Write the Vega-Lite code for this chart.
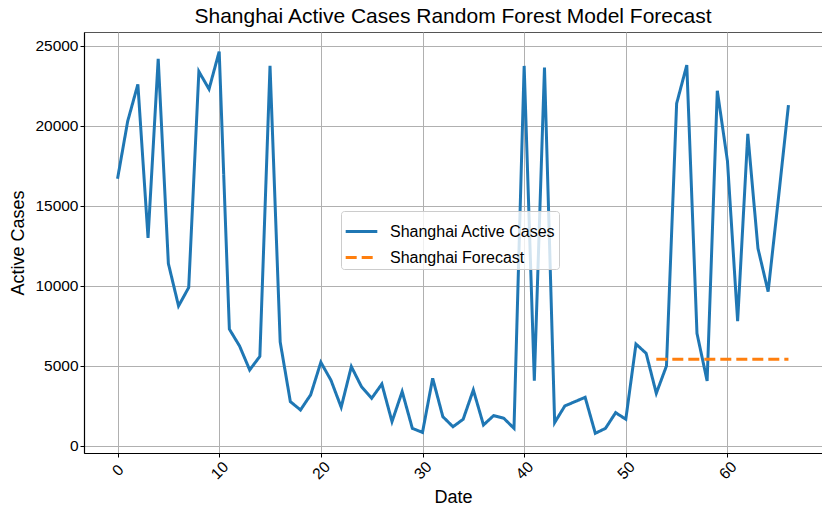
{
  "$schema": "https://vega.github.io/schema/vega-lite/v6.json",
  "width": 738,
  "height": 421,
  "autosize": "none",
  "padding": {"left": 84, "top": 32, "right": 0, "bottom": 56},
  "background": "white",
  "config": {
    "font": "Liberation Sans",
    "view": {"stroke": "#555555", "strokeWidth": 1},
    "axis": {
      "grid": true,
      "gridColor": "#b0b0b0",
      "gridWidth": 1,
      "domainColor": "#000000",
      "domainWidth": 1.2,
      "tickColor": "#000000",
      "tickSize": 4,
      "labelFont": "Liberation Sans",
      "labelFontSize": 15.5,
      "labelColor": "#000000",
      "titleFont": "Liberation Sans",
      "titleFontSize": 18,
      "titleFontWeight": "normal",
      "titleColor": "#000000"
    },
    "title": {"font": "Liberation Sans", "fontSize": 21, "fontWeight": "normal", "color": "#000000"}
  },
  "title": {"text": "Shanghai Active Cases Random Forest Model Forecast", "offset": 5},
  "data": {
    "values": [
      {"Date": 0, "value": 16700, "series": "Shanghai Active Cases"},
      {"Date": 1, "value": 20300, "series": "Shanghai Active Cases"},
      {"Date": 2, "value": 22600, "series": "Shanghai Active Cases"},
      {"Date": 3, "value": 13000, "series": "Shanghai Active Cases"},
      {"Date": 4, "value": 24200, "series": "Shanghai Active Cases"},
      {"Date": 5, "value": 11400, "series": "Shanghai Active Cases"},
      {"Date": 6, "value": 8750, "series": "Shanghai Active Cases"},
      {"Date": 7, "value": 9900, "series": "Shanghai Active Cases"},
      {"Date": 8, "value": 23400, "series": "Shanghai Active Cases"},
      {"Date": 9, "value": 22300, "series": "Shanghai Active Cases"},
      {"Date": 10, "value": 24650, "series": "Shanghai Active Cases"},
      {"Date": 11, "value": 7300, "series": "Shanghai Active Cases"},
      {"Date": 12, "value": 6250, "series": "Shanghai Active Cases"},
      {"Date": 13, "value": 4750, "series": "Shanghai Active Cases"},
      {"Date": 14, "value": 5600, "series": "Shanghai Active Cases"},
      {"Date": 15, "value": 23750, "series": "Shanghai Active Cases"},
      {"Date": 16, "value": 6500, "series": "Shanghai Active Cases"},
      {"Date": 17, "value": 2770, "series": "Shanghai Active Cases"},
      {"Date": 18, "value": 2250, "series": "Shanghai Active Cases"},
      {"Date": 19, "value": 3200, "series": "Shanghai Active Cases"},
      {"Date": 20, "value": 5230, "series": "Shanghai Active Cases"},
      {"Date": 21, "value": 4100, "series": "Shanghai Active Cases"},
      {"Date": 22, "value": 2420, "series": "Shanghai Active Cases"},
      {"Date": 23, "value": 4960, "series": "Shanghai Active Cases"},
      {"Date": 24, "value": 3700, "series": "Shanghai Active Cases"},
      {"Date": 25, "value": 2980, "series": "Shanghai Active Cases"},
      {"Date": 26, "value": 3870, "series": "Shanghai Active Cases"},
      {"Date": 27, "value": 1520, "series": "Shanghai Active Cases"},
      {"Date": 28, "value": 3400, "series": "Shanghai Active Cases"},
      {"Date": 29, "value": 1100, "series": "Shanghai Active Cases"},
      {"Date": 30, "value": 850, "series": "Shanghai Active Cases"},
      {"Date": 31, "value": 4230, "series": "Shanghai Active Cases"},
      {"Date": 32, "value": 1830, "series": "Shanghai Active Cases"},
      {"Date": 33, "value": 1200, "series": "Shanghai Active Cases"},
      {"Date": 34, "value": 1670, "series": "Shanghai Active Cases"},
      {"Date": 35, "value": 3500, "series": "Shanghai Active Cases"},
      {"Date": 36, "value": 1310, "series": "Shanghai Active Cases"},
      {"Date": 37, "value": 1900, "series": "Shanghai Active Cases"},
      {"Date": 38, "value": 1730, "series": "Shanghai Active Cases"},
      {"Date": 39, "value": 1100, "series": "Shanghai Active Cases"},
      {"Date": 40, "value": 23750, "series": "Shanghai Active Cases"},
      {"Date": 41, "value": 4080, "series": "Shanghai Active Cases"},
      {"Date": 42, "value": 23650, "series": "Shanghai Active Cases"},
      {"Date": 43, "value": 1460, "series": "Shanghai Active Cases"},
      {"Date": 44, "value": 2500, "series": "Shanghai Active Cases"},
      {"Date": 45, "value": 2770, "series": "Shanghai Active Cases"},
      {"Date": 46, "value": 3040, "series": "Shanghai Active Cases"},
      {"Date": 47, "value": 790, "series": "Shanghai Active Cases"},
      {"Date": 48, "value": 1100, "series": "Shanghai Active Cases"},
      {"Date": 49, "value": 2080, "series": "Shanghai Active Cases"},
      {"Date": 50, "value": 1670, "series": "Shanghai Active Cases"},
      {"Date": 51, "value": 6370, "series": "Shanghai Active Cases"},
      {"Date": 52, "value": 5790, "series": "Shanghai Active Cases"},
      {"Date": 53, "value": 3290, "series": "Shanghai Active Cases"},
      {"Date": 54, "value": 5000, "series": "Shanghai Active Cases"},
      {"Date": 55, "value": 21400, "series": "Shanghai Active Cases"},
      {"Date": 56, "value": 23800, "series": "Shanghai Active Cases"},
      {"Date": 57, "value": 7040, "series": "Shanghai Active Cases"},
      {"Date": 58, "value": 4060, "series": "Shanghai Active Cases"},
      {"Date": 59, "value": 22200, "series": "Shanghai Active Cases"},
      {"Date": 60, "value": 17800, "series": "Shanghai Active Cases"},
      {"Date": 61, "value": 7800, "series": "Shanghai Active Cases"},
      {"Date": 62, "value": 19500, "series": "Shanghai Active Cases"},
      {"Date": 63, "value": 12350, "series": "Shanghai Active Cases"},
      {"Date": 64, "value": 9650, "series": "Shanghai Active Cases"},
      {"Date": 65, "value": 15400, "series": "Shanghai Active Cases"},
      {"Date": 66, "value": 21300, "series": "Shanghai Active Cases"},
      {"Date": 53, "value": 5420, "series": "Shanghai Forecast"},
      {"Date": 54, "value": 5420, "series": "Shanghai Forecast"},
      {"Date": 55, "value": 5420, "series": "Shanghai Forecast"},
      {"Date": 56, "value": 5420, "series": "Shanghai Forecast"},
      {"Date": 57, "value": 5420, "series": "Shanghai Forecast"},
      {"Date": 58, "value": 5420, "series": "Shanghai Forecast"},
      {"Date": 59, "value": 5420, "series": "Shanghai Forecast"},
      {"Date": 60, "value": 5420, "series": "Shanghai Forecast"},
      {"Date": 61, "value": 5420, "series": "Shanghai Forecast"},
      {"Date": 62, "value": 5420, "series": "Shanghai Forecast"},
      {"Date": 63, "value": 5420, "series": "Shanghai Forecast"},
      {"Date": 64, "value": 5420, "series": "Shanghai Forecast"},
      {"Date": 65, "value": 5420, "series": "Shanghai Forecast"},
      {"Date": 66, "value": 5420, "series": "Shanghai Forecast"}
    ]
  },
  "mark": {"type": "line", "strokeWidth": 3, "clip": true},
  "encoding": {
    "x": {
      "field": "Date",
      "type": "quantitative",
      "scale": {"domain": [-3.3, 69.3], "nice": false, "zero": false},
      "axis": {
        "values": [0, 10, 20, 30, 40, 50, 60],
        "labelAngle": -45,
        "labelAlign": "center",
        "labelBaseline": "middle",
        "labelPadding": 13,
        "title": "Date",
        "titlePadding": 6
      }
    },
    "y": {
      "field": "value",
      "type": "quantitative",
      "scale": {"domain": [-440, 25870], "nice": false, "zero": false},
      "axis": {
        "values": [0, 5000, 10000, 15000, 20000, 25000],
        "format": "d",
        "title": "Active Cases",
        "titlePadding": 7
      }
    },
    "color": {
      "field": "series",
      "type": "nominal",
      "scale": {"domain": ["Shanghai Active Cases", "Shanghai Forecast"], "range": ["#1f77b4", "#ff7f0e"]},
      "legend": {
        "title": null,
        "orient": "none",
        "legendX": 257,
        "legendY": 179,
        "labelFontSize": 16,
        "labelFont": "Liberation Sans",
        "labelColor": "#000000",
        "labelLimit": 0,
        "labelOffset": 11,
        "symbolType": "stroke",
        "symbolSize": 1000,
        "symbolStrokeWidth": 3,
        "rowPadding": -6,
        "padding": 3,
        "strokeColor": "#cccccc",
        "fillColor": "rgba(255,255,255,0.8)",
        "cornerRadius": 3
      }
    },
    "strokeDash": {
      "field": "series",
      "type": "nominal",
      "scale": {"domain": ["Shanghai Active Cases", "Shanghai Forecast"], "range": [[1, 0], [11, 5]]},
      "legend": null
    }
  }
}
